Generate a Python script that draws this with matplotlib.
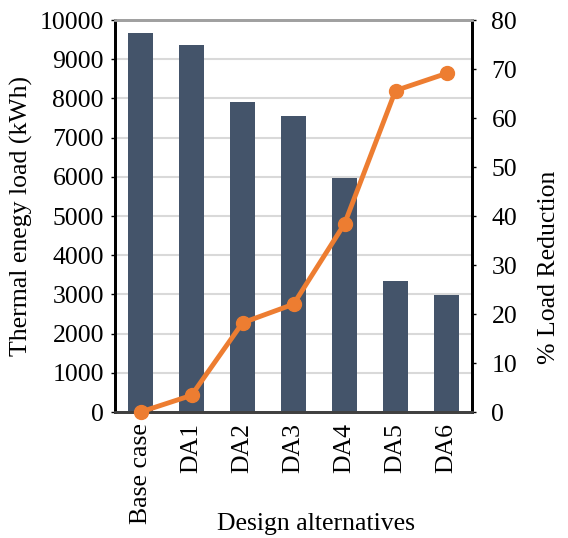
import matplotlib
matplotlib.use("Agg")
import matplotlib.pyplot as plt

categories = ["Base case", "DA1", "DA2", "DA3", "DA4", "DA5", "DA6"]
thermal_load = [9680, 9350, 7920, 7550, 5960, 3330, 2990]
load_reduction = [0.0, 3.4, 18.2, 22.0, 38.4, 65.6, 69.1]

plt.rcParams['font.family'] = ['Liberation Serif', 'DejaVu Serif']
FS = 18.5

fig = plt.figure(figsize=(5.68, 5.38), dpi=100)
ax = fig.add_axes([0.2025, 0.2342, 0.6285, 0.7286])
x = list(range(len(categories)))
ax.set_axisbelow(True)
ax.yaxis.grid(True, color='#d9d9d9', linewidth=1.5)
ax.bar(x, thermal_load, width=0.5, color='#44546A', zorder=2)
ax.set_xlim(-0.5, len(categories) - 0.5)
ax.set_ylim(0, 10000)
ax.set_yticks(range(0, 10001, 1000))
ax.set_xticks(x)
ax.set_xticklabels(categories, rotation=90, fontsize=FS)
ax.tick_params(axis='y', labelsize=FS, length=3, width=1, direction='out', pad=5)
ax.tick_params(axis='x', length=0, pad=8)
ax.set_ylabel("Thermal enegy load (kWh)", fontsize=FS, labelpad=5)
ax.set_xlabel("Design alternatives", fontsize=FS)
ax.xaxis.set_label_coords(0.563, -0.258)

ax2 = ax.twinx()
ax2.plot(x, load_reduction, color='#ED7D31', linewidth=3.5, marker='o', markersize=10, zorder=3, clip_on=False)
ax2.set_ylim(0, 80)
ax2.set_yticks(range(0, 81, 10))
ax2.tick_params(axis='y', labelsize=FS, length=3, width=1, direction='out', pad=11)
ax2.set_ylabel("% Load Reduction", fontsize=FS)
ax2.yaxis.set_label_coords(1.185, 0.37)

for a in (ax, ax2):
    a.spines['left'].set_linewidth(2)
    a.spines['right'].set_linewidth(2)
    a.spines['left'].set_color('black')
    a.spines['right'].set_color('black')
    a.spines['top'].set_linewidth(2)
    a.spines['top'].set_color('#a0a0a0')
    a.spines['bottom'].set_linewidth(2)
    a.spines['bottom'].set_color('#404040')

fig.savefig("out.png", dpi=100)
